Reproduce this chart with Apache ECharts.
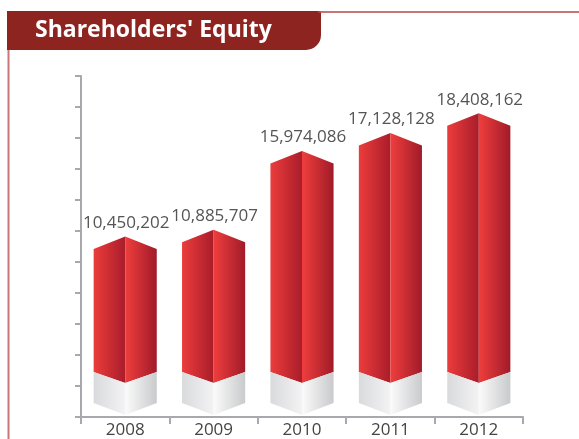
<!DOCTYPE html>
<html>
<head>
<meta charset="utf-8">
<script src="https://cdn.jsdelivr.net/npm/echarts@6/dist/echarts.min.js"></script>
<style>
  html, body { margin: 0; padding: 0; background: #fff; }
  #chart { width: 579px; height: 439px; }
</style>
</head>
<body>
<div id="chart"></div>
<script>
const years = ['2008', '2009', '2010', '2011', '2012']
const equity = [10450202, 10885707, 15974086, 17128128, 18408162]
const yMax = 22000000
const yStep = 2000000

const fontFamily = '"Open Sans", "Noto Sans", sans-serif'

function grad(c1, c2) {
  return {
    type: 'linear', x: 0, y: 0, x2: 1, y2: 0,
    colorStops: [{ offset: 0, color: c1 }, { offset: 1, color: c2 }]
  }
}

// prism-like bar: pointed roof, red body, pale grey foot
function renderPrism(params, api) {
  const idx = api.value(0)
  const top = api.coord([idx, api.value(1)])
  const base = api.coord([idx, 0])
  const half = api.size([1, 0])[0] * 0.357
  const cx = top[0]
  const l = cx - half
  const r = cx + half
  const shoulder = top[1] - 6
  const peak = shoulder - 12.5
  const y0 = base[1]
  const redSide = y0 - 45
  const redMid = y0 - 34
  const greySide = y0 - 14
  const greyMid = y0 - 2

  return {
    type: 'group',
    children: [
      {
        type: 'polygon',
        shape: { points: [[l, shoulder], [cx, peak], [cx, redMid], [l, redSide]] },
        style: { fill: grad('#ec3c3c', '#a91d2a') }
      },
      {
        type: 'polygon',
        shape: { points: [[cx, peak], [r, shoulder], [r, redSide], [cx, redMid]] },
        style: { fill: grad('#ef3e3d', '#a11b29') }
      },
      {
        type: 'polygon',
        shape: { points: [[l, redSide], [cx, redMid], [cx, greyMid], [l, greySide]] },
        style: { fill: grad('#d9dadc', '#f3f3f4') }
      },
      {
        type: 'polygon',
        shape: { points: [[cx, redMid], [r, redSide], [r, greySide], [cx, greyMid]] },
        style: { fill: grad('#fbfbfb', '#c9cacc') }
      },
      {
        type: 'text',
        style: {
          text: api.value(1).toLocaleString('en-US'),
          x: cx + 1,
          y: peak - 5,
          textAlign: 'center',
          textVerticalAlign: 'bottom',
          fill: '#555555',
          font: '17px ' + fontFamily
        }
      }
    ]
  }
}

const chart = echarts.init(document.getElementById('chart'), null, { renderer: 'canvas' })

chart.setOption({
  animation: false,
  backgroundColor: '#ffffff',
  grid: { left: 81, right: 56, top: 76, bottom: 22 },
  graphic: [
    {
      type: 'rect',
      shape: { x: 7, y: 11, width: 314, height: 39, r: [0, 2, 15, 0] },
      style: { fill: '#8e2420' }
    },
    {
      type: 'line',
      shape: { x1: 318, y1: 12, x2: 579, y2: 12 },
      style: { stroke: '#b5464a', lineWidth: 1.5 }
    },
    {
      type: 'line',
      shape: { x1: 8.5, y1: 50, x2: 8.5, y2: 439 },
      style: { stroke: '#c97678', lineWidth: 2 }
    },
    {
      type: 'text',
      style: {
        text: "Shareholders' Equity",
        x: 35,
        y: 30,
        textVerticalAlign: 'middle',
        fill: '#ffffff',
        font: 'bold 23px ' + fontFamily
      }
    }
  ],
  xAxis: {
    type: 'category',
    data: years,
    boundaryGap: true,
    axisLine: { lineStyle: { color: '#a9a9ad', width: 2 } },
    axisTick: { show: true, length: 7, lineStyle: { color: '#a9a9ad', width: 2 } },
    axisLabel: { color: '#444444', fontSize: 17, fontFamily: fontFamily, margin: 5 }
  },
  yAxis: {
    type: 'value',
    min: 0,
    max: yMax,
    interval: yStep,
    axisLine: { show: true, lineStyle: { color: '#a9a9ad', width: 2 } },
    axisTick: { show: true, length: 6, lineStyle: { color: '#a9a9ad', width: 2 } },
    axisLabel: { show: false },
    splitLine: { show: false }
  },
  series: [
    {
      type: 'custom',
      renderItem: renderPrism,
      encode: { x: 0, y: 1 },
      data: equity.map((v, i) => [i, v]),
      z: 3
    }
  ]
})
</script>
</body>
</html>
